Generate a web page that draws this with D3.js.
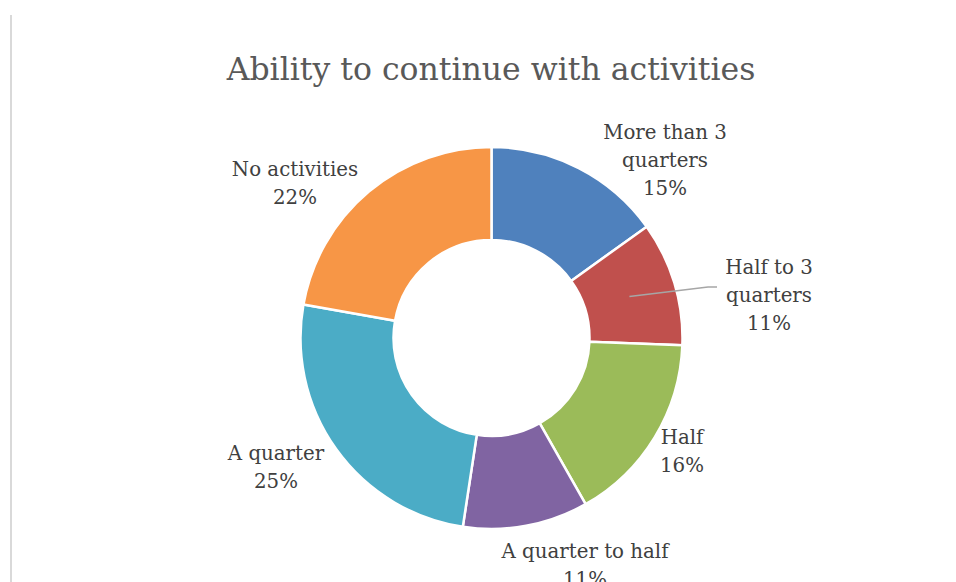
<!DOCTYPE html>
<html><head><meta charset="utf-8">
<script src="https://cdn.jsdelivr.net/npm/d3@7"></script>
<style>html,body{margin:0;padding:0;background:#fff;}svg{display:block;}</style>
</head><body>
<script>
const categories = ["More than 3 quarters","Half to 3 quarters","Half","A quarter to half","A quarter","No activities"];
const values = [15.1, 10.5, 16.2, 10.6, 25.4, 22.2];
const percentLabels = ["15%","11%","16%","11%","25%","22%"];
const labelLines = [["More than 3","quarters"],["Half to 3","quarters"],["Half"],["A quarter to half"],["A quarter"],["No activities"]];
const colors = ["#4f81bd","#c0504d","#9bbb59","#8064a2","#4bacc6","#f79646"];
const title = "Ability to continue with activities";

const W=956,H=582, cx=491.5, cy=338, R=191, r=98;
const FONT = "'DejaVu Serif', serif";
const svg=d3.select("body").append("svg").attr("width",W).attr("height",H);
svg.append("rect").attr("width",W).attr("height",H).attr("fill","#fff");
svg.append("line").attr("x1",11).attr("x2",11).attr("y1",15).attr("y2",H).attr("stroke","#d9d9d9").attr("stroke-width",2);

svg.append("text").attr("x",491).attr("y",80).attr("text-anchor","middle")
  .attr("font-family",FONT).attr("font-size",31.5).attr("fill","#595959").text(title);

const pie=d3.pie().sort(null).value(d=>d)(values);
const arc=d3.arc().innerRadius(r).outerRadius(R);
const g=svg.append("g").attr("transform",`translate(${cx},${cy})`);
g.selectAll("path").data(pie).join("path").attr("d",arc)
  .attr("fill",(d,i)=>colors[i]).attr("stroke","#fff").attr("stroke-width",2.5).attr("stroke-linejoin","round");

// label positions (centres of first line)
const labelPos=[[665,139],[769,274],[682,444],[585,558],[276,460],[295,176]];
const lh=28;
labelLines.forEach((lines,i)=>{
  const t=svg.append("text").attr("text-anchor","middle").attr("font-family",FONT)
    .attr("font-size",19.8).attr("fill","#404040");
  lines.concat([percentLabels[i]]).forEach((s,k)=>{
    t.append("tspan").attr("x",labelPos[i][0]).attr("y",labelPos[i][1]+k*lh).text(s);
  });
});
// leader line for "Half to 3 quarters"
const mid=(pie[1].startAngle+pie[1].endAngle)/2;
const p0=[cx+Math.sin(mid)*(R-47), cy-Math.cos(mid)*(R-47)];
svg.append("polyline").attr("points",`${p0[0]},${p0[1]} 708,287 717,287`)
  .attr("fill","none").attr("stroke","#a6a6a6").attr("stroke-width",1.5);
</script>
</body></html>
